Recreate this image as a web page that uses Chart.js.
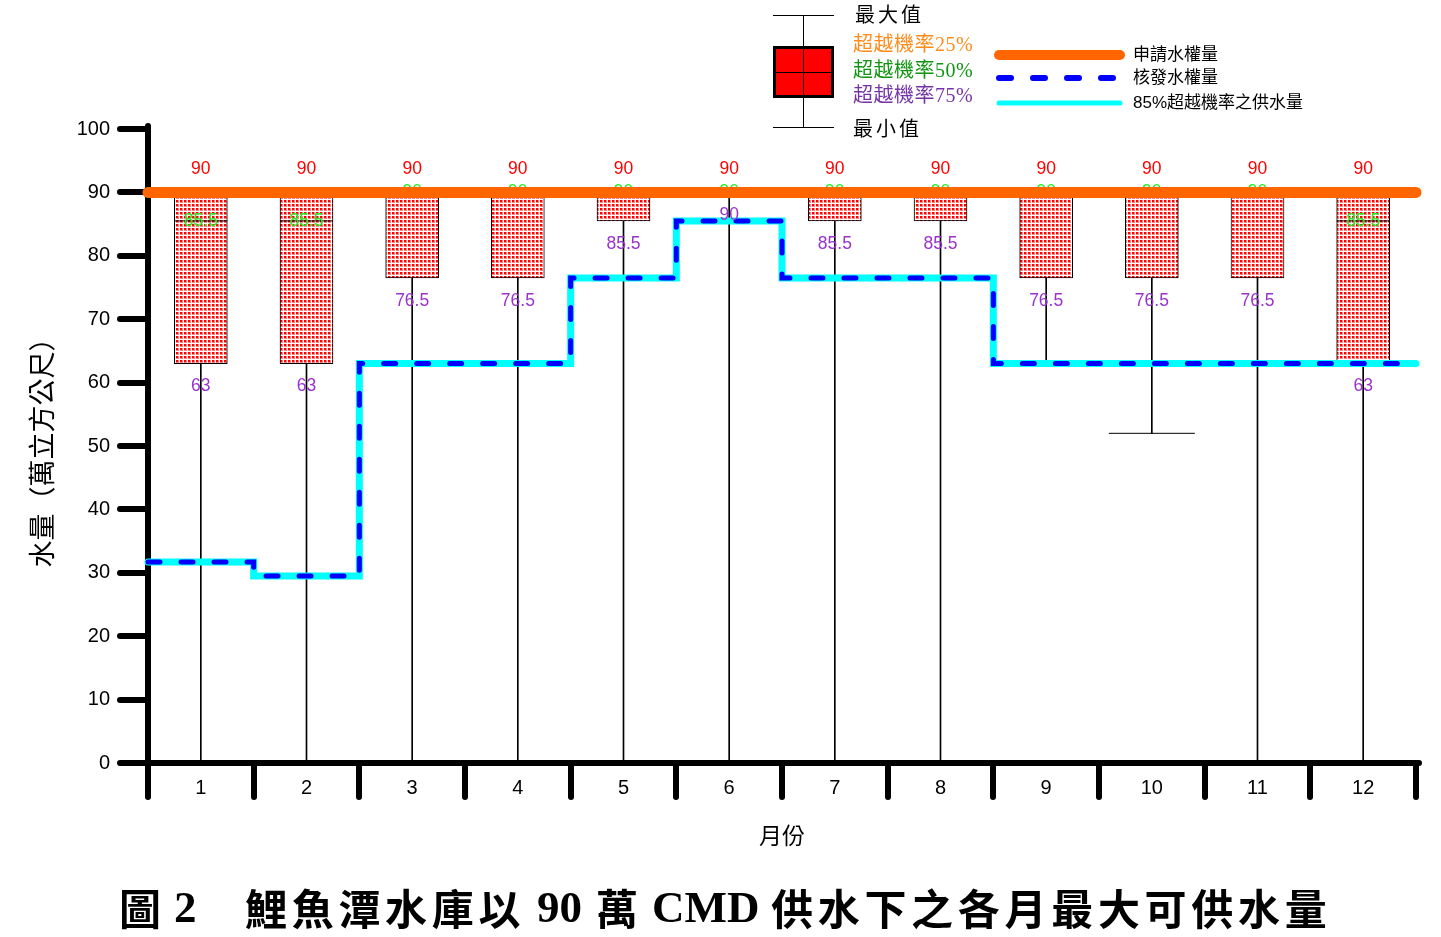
<!DOCTYPE html>
<html>
<head>
<meta charset="utf-8">
<script src="https://cdn.jsdelivr.net/npm/chart.js@4.4.1/dist/chart.umd.min.js"></script>
<style>
  html, body { margin: 0; padding: 0; background: #fff; }
  #wrap { position: relative; width: 1441px; height: 937px; overflow: hidden; }
  #c { position: absolute; left: 0; top: 0; }
  #title { position: absolute; left: 0; top: 880px; width: 1441px; height: 54px; color: #000; }
  #title span { position: absolute; top: 0; white-space: pre; line-height: 54px; font-weight: bold; }
  #title .cjk { font-family: "Noto Sans CJK TC", sans-serif; font-size: 42px; letter-spacing: 4.7px; }
  #title .lat { font-family: "Liberation Serif", serif; font-size: 45px; letter-spacing: 0; }
</style>
</head>
<body>
<div id="wrap">
  <canvas id="c" width="1441" height="937"></canvas>
  <div id="title"><span class="cjk" style="left:119px">圖</span><span class="lat" style="left:174px">2</span><span class="cjk" style="left:245px">鯉魚潭水庫以</span><span class="lat" style="left:537px">90</span><span class="cjk" style="left:596px">萬</span><span class="lat" style="left:652px">CMD</span><span class="cjk" style="left:771px">供水下之各月最大可供水量</span></div>
</div>
<script>
// ---- data ----
const months   = ['1','2','3','4','5','6','7','8','9','10','11','12'];
const p25      = [90, 90, 90, 90, 90, 90, 90, 90, 90, 90, 90, 90];          // 超越機率25% (box top)
const p50      = [85.5, 85.5, 90, 90, 90, 90, 90, 90, 90, 90, 90, 85.5];    // 超越機率50% (median)
const p75      = [63, 63, 76.5, 76.5, 85.5, 90, 85.5, 85.5, 76.5, 76.5, 76.5, 63]; // 超越機率75% (box bottom)
const maxVals  = [90, 90, 90, 90, 90, 90, 90, 90, 90, 90, 90, 90];          // 最大值
const minVals  = [0, 0, 0, 0, 0, 0, 0, 0, 63, 52, 0, 0];                    // 最小值
const applied  = [90, 90, 90, 90, 90, 90, 90, 90, 90, 90, 90, 90];          // 申請水權量
const approved = [31.7, 29.5, 63, 63, 76.5, 85.5, 76.5, 76.5, 63, 63, 63, 63]; // 核發水權量
const supply85 = [31.7, 29.5, 63, 63, 76.5, 85.5, 76.5, 76.5, 63, 63, 63, 63]; // 85%超越機率之供水量
const yTicks   = [0, 10, 20, 30, 40, 50, 60, 70, 80, 90, 100];

// month-long steps on a hidden linear axis (boundaries at i±0.5)
function steps(arr) {
  const pts = arr.map((v, i) => ({ x: i + 0.5, y: v }));
  pts.push({ x: arr.length + 0.5, y: arr[arr.length - 1] });
  return pts;
}
function fmt(v) { return String(v); }

// dotted red fill
const tile = document.createElement('canvas');
tile.width = 4; tile.height = 4;
const tc = tile.getContext('2d');
tc.fillStyle = '#ffffff'; tc.fillRect(0, 0, 4, 4);
tc.fillStyle = '#ff8080'; tc.fillRect(0, 0, 3, 3);
tc.fillStyle = '#ff0000'; tc.fillRect(0, 0, 2, 2);

const ctx = document.getElementById('c').getContext('2d');
const boxPattern = ctx.createPattern(tile, 'repeat');

const MEDIAN_IDX = 2;
const sansFont = '"Liberation Sans", Arial, sans-serif';
const cjkSerif = '"Liberation Serif", "Noto Sans CJK TC", serif';
const cjkSans = '"Liberation Sans", "Noto Sans CJK TC", sans-serif';

const extras = {
  id: 'extras',
  beforeDraw(chart) { chart.ctx.lineCap = 'round'; },
  beforeDatasetsDraw(chart) { chart.ctx.lineCap = 'butt'; },
  afterDatasetDraw(chart, args) {
    if (args.index !== MEDIAN_IDX) return;
    const { ctx, scales: { x, y } } = chart;
    ctx.save();
    ctx.font = '17.5px ' + sansFont;
    ctx.fillStyle = '#22ee22';
    ctx.textAlign = 'center'; ctx.textBaseline = 'middle';
    p50.forEach((v, i) => ctx.fillText(fmt(v), x.getPixelForValue(i), y.getPixelForValue(v)));
    ctx.restore();
  },
  afterDatasetsDraw(chart) {
    const { ctx, scales: { x, y } } = chart;
    ctx.save();
    ctx.font = '17.5px ' + sansFont;
    ctx.textAlign = 'center'; ctx.textBaseline = 'middle';
    ctx.fillStyle = '#ff0000';
    maxVals.forEach((v, i) => ctx.fillText(fmt(v), x.getPixelForValue(i), y.getPixelForValue(v) - 23));
    ctx.fillStyle = '#9933cc';
    p75.forEach((v, i) => ctx.fillText(fmt(v), x.getPixelForValue(i), y.getPixelForValue(v) + 23));
    ctx.restore();
  },
  afterDraw(chart) {
    const ctx = chart.ctx;
    ctx.save();
    // box-plot key
    ctx.strokeStyle = '#000'; ctx.lineWidth = 1; ctx.lineCap = 'butt';
    ctx.beginPath();
    ctx.moveTo(803.5, 15); ctx.lineTo(803.5, 127);
    ctx.moveTo(773, 15.5); ctx.lineTo(834, 15.5);
    ctx.moveTo(773, 127.5); ctx.lineTo(834, 127.5);
    ctx.stroke();
    ctx.fillStyle = '#ff0000';
    ctx.fillRect(774, 47, 59, 50);
    ctx.lineWidth = 3;
    ctx.strokeRect(774.5, 47.5, 58, 49);
    ctx.lineWidth = 1;
    ctx.beginPath();
    ctx.moveTo(803.5, 47); ctx.lineTo(803.5, 97);
    ctx.moveTo(774, 72.5); ctx.lineTo(833, 72.5);
    ctx.stroke();
    ctx.textAlign = 'left'; ctx.textBaseline = 'middle';
    ctx.font = '20px ' + cjkSerif;
    ctx.fillStyle = '#000';
    ctx.letterSpacing = '3px';
    ctx.fillText('最大值', 855, 17);
    ctx.fillText('最小值', 853, 131);
    ctx.letterSpacing = '0.5px';
    ctx.fillStyle = '#ff8c1a'; ctx.fillText('超越機率25%', 853, 46);
    ctx.fillStyle = '#129412'; ctx.fillText('超越機率50%', 853, 72);
    ctx.fillStyle = '#7434a8'; ctx.fillText('超越機率75%', 853, 97);
    ctx.letterSpacing = '0px';
    // line key
    ctx.lineCap = 'round';
    ctx.strokeStyle = '#ff6600'; ctx.lineWidth = 10;
    ctx.beginPath(); ctx.moveTo(999, 55); ctx.lineTo(1120, 55); ctx.stroke();
    ctx.strokeStyle = '#0000ff'; ctx.lineWidth = 6; ctx.setLineDash([12, 22]);
    ctx.beginPath(); ctx.moveTo(999, 78); ctx.lineTo(1114, 78); ctx.stroke();
    ctx.setLineDash([]);
    ctx.strokeStyle = '#00ffff'; ctx.lineWidth = 5;
    ctx.beginPath(); ctx.moveTo(999, 103); ctx.lineTo(1120, 103); ctx.stroke();
    ctx.fillStyle = '#000'; ctx.font = '17px ' + cjkSans;
    ctx.fillText('申請水權量', 1133, 55);
    ctx.fillText('核發水權量', 1133, 78);
    ctx.fillText('85%超越機率之供水量', 1133, 103);
    ctx.restore();
  }
};

function noPad(scale) { scale.paddingLeft = 0; scale.paddingRight = 0; scale.paddingTop = 0; scale.paddingBottom = 0; }

new Chart(ctx, {
  data: {
    labels: months,
    datasets: [
      { // 0 whiskers
        type: 'bar', label: 'whisker', xAxisID: 'x', grouped: false, order: 8,
        data: minVals.map((v, i) => [v, p75[i]]),
        backgroundColor: '#000', borderWidth: 0, barThickness: 1
      },
      { // 1 boxes
        type: 'bar', label: 'box', xAxisID: 'x', grouped: false, order: 7,
        data: p75.map((v, i) => [v, p25[i]]),
        backgroundColor: boxPattern, borderColor: '#000', borderWidth: 1,
        borderSkipped: false, barThickness: 53
      },
      { // 2 median
        type: 'line', label: 'median', xAxisID: 'x', order: 6, showLine: false,
        data: p50, pointStyle: 'line', pointRadius: 26.5, pointBorderWidth: 1,
        pointBorderColor: '#000', pointBackgroundColor: '#000', clip: false
      },
      { // 3 min caps
        type: 'line', label: 'min', xAxisID: 'x', order: 5, showLine: false,
        data: minVals, pointStyle: 'line', pointRadius: 43, pointBorderWidth: 1,
        pointBorderColor: '#000', clip: false
      },
      { // 4 max caps
        type: 'line', label: 'max', xAxisID: 'x', order: 5, showLine: false,
        data: maxVals, pointStyle: 'line', pointRadius: 43, pointBorderWidth: 1,
        pointBorderColor: '#000', clip: false
      },
      { // 5 85% supply
        type: 'line', label: '85%超越機率之供水量', xAxisID: 'x2', order: 3,
        data: steps(supply85), stepped: 'before', borderColor: '#00ffff',
        borderWidth: 7, pointRadius: 0, fill: false, clip: false,
        borderCapStyle: 'round', borderJoinStyle: 'miter'
      },
      { // 6 approved
        type: 'line', label: '核發水權量', xAxisID: 'x2', order: 2,
        data: steps(approved), stepped: 'before', borderColor: '#0000ff',
        borderWidth: 5, borderDash: [12, 21], borderCapStyle: 'round',
        pointRadius: 0, fill: false, clip: false
      },
      { // 7 applied
        type: 'line', label: '申請水權量', xAxisID: 'x2', order: 1,
        data: steps(applied), borderColor: '#ff6600', borderWidth: 11,
        borderCapStyle: 'round', pointRadius: 0, fill: false, clip: false
      }
    ]
  },
  options: {
    responsive: false,
    animation: false,
    events: [],
    layout: { autoPadding: false, padding: { left: 0, top: 129, right: 25, bottom: 0 } },
    plugins: { legend: { display: false }, tooltip: { enabled: false }, title: { display: false } },
    scales: {
      x: {
        type: 'category', position: 'bottom', offset: true,
        grid: { display: true, offset: true, drawOnChartArea: false, tickLength: 34, lineWidth: 6, color: '#000' },
        border: { display: true, width: 6, color: '#000' },
        ticks: { color: '#000', font: { size: 20, family: sansFont }, padding: -21, maxRotation: 0, autoSkip: false },
        title: { display: true, text: '月份', color: '#000', font: { size: 23, family: cjkSerif }, padding: { top: 0, bottom: 85 } },
        afterFit(scale) { scale.height = 174; noPad(scale); }
      },
      x2: { type: 'linear', position: 'bottom', display: false, min: 0.5, max: 12.5, afterFit: noPad },
      y: {
        type: 'linear', position: 'left', min: 0, max: 100,
        afterBuildTicks(scale) { scale.ticks = yTicks.map(v => ({ value: v })); },
        grid: { display: true, drawOnChartArea: false, tickLength: 28, lineWidth: 6, color: '#000' },
        border: { display: true, width: 6, color: '#000' },
        ticks: { color: '#000', font: { size: 20, family: sansFont }, padding: 10 },
        title: { display: true, text: '水量（萬立方公尺）', color: '#000', font: { size: 27, family: cjkSerif }, padding: { top: 29, bottom: 0 } },
        afterFit(scale) { scale.width = 148; noPad(scale); }
      }
    }
  },
  plugins: [extras]
});
</script>
</body>
</html>
